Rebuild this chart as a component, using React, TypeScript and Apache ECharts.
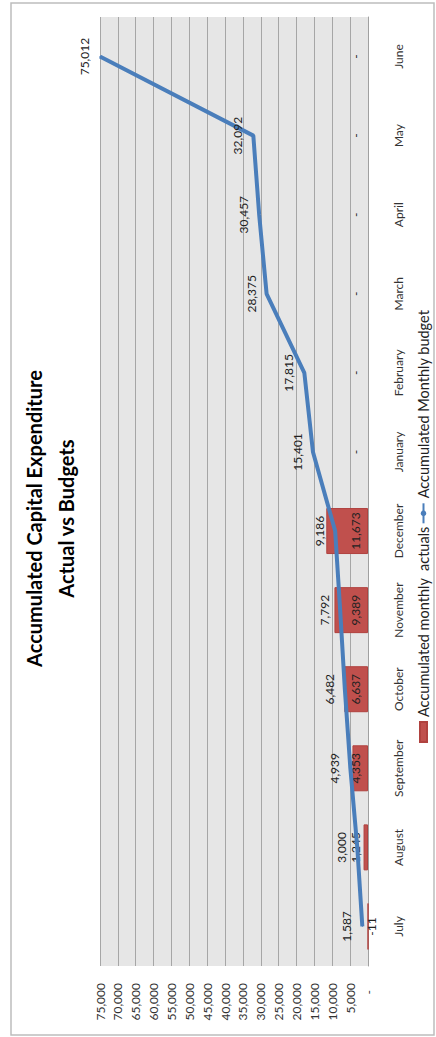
import React, { useEffect, useRef } from "react";
import * as echarts from "echarts";

const months = ["July", "August", "September", "October", "November", "December", "January", "February", "March", "April", "May", "June"];
const actuals = [-11, 1245, 4353, 6637, 9389, 11673, 0, 0, 0, 0, 0, 0];
const budget = [1587, 3000, 4939, 6482, 7792, 9186, 15401, 17815, 28375, 30457, 32092, 75012];
const titleLines = ["Accumulated Capital Expenditure", "Actual vs Budgets"];
const seriesNames = ["Accumulated monthly  actuals", "Accumulated Monthly budget"];
const axisMin = 0;
const axisMax = 75000;
const axisStep = 5000;

const W = 1037;
const H = 436;
const FONT = "Lato, 'Open Sans', sans-serif";

const fmt = (v: number) => (v === 0 ? "-" : v.toLocaleString("en-US"));

export default function App() {
  const ref = useRef<HTMLDivElement>(null);
  useEffect(() => {
    if (!ref.current) return;
    const chart = echarts.init(ref.current, null, { renderer: "svg" });
    chart.setOption({
      animation: false,
      backgroundColor: "#ffffff",
      textStyle: { fontFamily: FONT },
      title: {
        text: titleLines.join("\n"),
        left: "center",
        top: 13,
        textStyle: { fontFamily: FONT, fontSize: 20, fontWeight: "bold", lineHeight: 32, color: "#000" },
      },
      legend: {
        left: 294,
        top: 416,
        padding: 0,
        itemWidth: 20,
        itemHeight: 7,
        itemGap: 2,
        textStyle: { fontFamily: FONT, fontSize: 14.5, color: "#222" },
        data: [
          { name: seriesNames[0], icon: "rect" },
          { name: seriesNames[1] },
        ],
      },
      graphic: [
        {
          type: "rect",
          shape: { x: 2, y: 11, width: 1032, height: 423 },
          style: { fill: "none", stroke: "#bdbdbd", lineWidth: 1.5 },
          silent: true,
        },
      ],
      grid: {
        left: 71,
        right: 17,
        top: 100,
        bottom: 68,
        show: true,
        backgroundColor: "#e6e6e6",
        borderWidth: 0,
      },
      xAxis: {
        type: "category",
        data: months,
        axisLine: { show: true, lineStyle: { color: "#a0a0a0", width: 1 } },
        axisTick: { show: false },
        axisLabel: { margin: 24, fontFamily: FONT, fontSize: 12, color: "#333" },
      },
      yAxis: {
        type: "value",
        min: axisMin,
        max: axisMax,
        interval: axisStep,
        axisLine: { show: false },
        axisTick: { show: false },
        splitLine: { lineStyle: { color: "#a6a6a6", width: 1 } },
        axisLabel: {
          margin: 17,
          fontFamily: FONT,
          fontSize: 12,
          color: "#333",
          formatter: (v: number) => (v === 0 ? "{z|-}" : v.toLocaleString("en-US")),
          rich: { z: { padding: [0, 7, 0, 0], fontFamily: FONT, fontSize: 12, color: "#333" } },
        },
      },
      series: [
        {
          name: seriesNames[0],
          type: "bar",
          barWidth: 46,
          clip: false,
          itemStyle: { color: "#C0504D", borderColor: "#b0423f", borderWidth: 1 },
          data: actuals.map((v) =>
            v < 0
              ? { value: v, label: { position: "bottom", distance: -3 } }
              : v === 0
              ? { value: v, itemStyle: { borderWidth: 0 } }
              : v
          ),
          label: {
            show: true,
            position: "insideBottom",
            distance: 7,
            fontFamily: FONT,
            fontSize: 12,
            color: "#222",
            formatter: (p: any) => fmt(p.value),
          },
          z: 2,
        },
        {
          name: seriesNames[1],
          type: "line",
          data: budget,
          symbol: "circle",
          symbolSize: 1,
          showSymbol: true,
          itemStyle: { color: "#4A7EBB" },
          lineStyle: { color: "#4A7EBB", width: 4 },
          label: {
            show: true,
            position: "top",
            distance: 9,
            fontFamily: FONT,
            fontSize: 12,
            color: "#222",
            formatter: (p: any) => fmt(p.value),
          },
          z: 3,
        },
      ],
    });
    return () => chart.dispose();
  }, []);

  return (
    <div style={{ position: "fixed", left: 0, top: 0, width: 436, height: 1037, overflow: "hidden", background: "#fff" }}>
      <div
        ref={ref}
        style={{
          position: "absolute",
          left: 0,
          top: 0,
          width: W,
          height: H,
          transformOrigin: "0 0",
          transform: `rotate(-90deg) translateX(-${W}px)`,
        }}
      />
    </div>
  );
}
